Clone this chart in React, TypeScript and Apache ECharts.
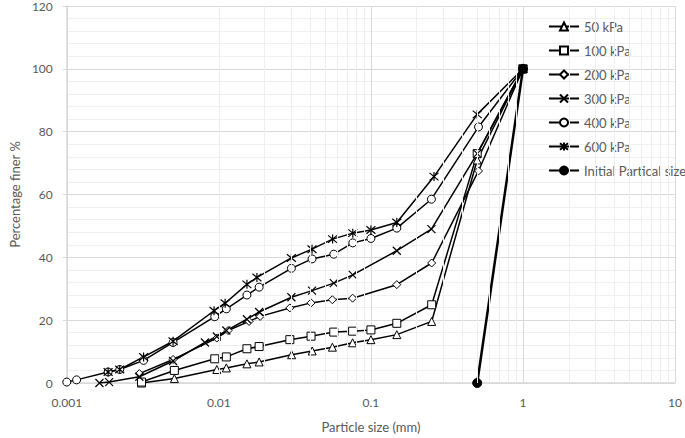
import React, { useEffect, useRef } from "react";
import * as echarts from "echarts";

const seriesNames = ["50 kPa", "100 kPa", "200 kPa", "300 kPa", "400 kPa", "600 kPa", "Initial Partical size"];

const x50 = [0.0031, 0.0051, 0.0097, 0.0112, 0.0153, 0.0184, 0.0301, 0.0411, 0.0558, 0.0758, 0.1, 0.148, 0.251, 0.5, 1];
const y50 = [0, 1.4, 4.3, 4.8, 6.1, 6.7, 9, 10.2, 11.4, 12.8, 13.8, 15.4, 19.6, 71, 100];

const x100 = [0.0031, 0.0051, 0.0094, 0.0112, 0.0153, 0.0184, 0.0293, 0.0404, 0.057, 0.0758, 0.1, 0.148, 0.251, 0.5, 1];
const y100 = [0.3, 4, 7.7, 8.3, 10.9, 11.6, 13.8, 14.9, 16.2, 16.5, 16.9, 19, 24.9, 73, 100];

const x200 = [0.003, 0.005, 0.0097, 0.0115, 0.0158, 0.0187, 0.0293, 0.0404, 0.0558, 0.0758, 0.148, 0.251, 0.51, 1];
const y200 = [3, 7.5, 14.3, 16.7, 19.6, 21.2, 23.9, 25.5, 26.5, 27, 31.3, 38.2, 67.5, 100];

const x300 = [0.00164, 0.0019, 0.003, 0.005, 0.0081, 0.0097, 0.0112, 0.0153, 0.0184, 0.03, 0.041, 0.057, 0.076, 0.148, 0.25, 0.5, 1];
const y300 = [0, 0.3, 2, 7, 12.9, 14.8, 16.7, 20.3, 22.6, 27.3, 29.4, 31.8, 34.4, 42.1, 49, 73, 100];

const x400 = [0.001, 0.00116, 0.00187, 0.00223, 0.0032, 0.005, 0.0094, 0.0112, 0.0153, 0.0184, 0.03, 0.041, 0.057, 0.076, 0.1, 0.148, 0.25, 0.51, 1];
const y400 = [0.3, 1, 3.5, 4.3, 7.2, 12.9, 21.1, 23.6, 28, 30.5, 36.5, 39.5, 41, 44.6, 46, 49.3, 58.5, 81.5, 100];

const x600 = [0.00187, 0.00223, 0.0032, 0.005, 0.0093, 0.011, 0.0153, 0.0178, 0.03, 0.041, 0.056, 0.076, 0.1, 0.148, 0.26, 0.5, 1];
const y600 = [3.5, 4.3, 8.3, 13.3, 23, 25.4, 31.4, 33.6, 39.8, 42.6, 45.8, 47.7, 48.7, 51.1, 65.7, 85.5, 100];

const xInit = [0.5, 1];
const yInit = [0, 100];

const xTicks = [0.001, 0.01, 0.1, 1, 10];

const FONT = "Lato, 'Open Sans', sans-serif";
const GREY = "#595959";

const XPATH = "path://M0,0L10,10M10,0L0,10";
const STARPATH = "path://M0,0L10,10M10,0L0,10M5,-1L5,11";

function pairs(xs: number[], ys: number[]) {
  return xs.map((x, i) => [x, ys[i]]);
}

export default function App() {
  const ref = useRef<HTMLDivElement>(null);
  useEffect(() => {
    if (!ref.current) return;
    const chart = echarts.init(ref.current, undefined, { renderer: "svg" });

    const minorX: any[] = [];
    for (let d = -3; d <= 0; d++) {
      for (let k = 2; k <= 9; k++) {
        minorX.push({ xAxis: k * Math.pow(10, d) });
      }
    }

    const hollow = (name: string, xs: number[], ys: number[], symbol: string, size: number) => ({
      name,
      type: "line",
      data: pairs(xs, ys),
      symbol,
      symbolSize: size,
      z: 3,
      lineStyle: { color: "#000", width: 1.5 },
      itemStyle: { color: "#fff", borderColor: "#000", borderWidth: 1 },
    });
    const cross = (name: string, xs: number[], ys: number[], symbol: string, size: number) => ({
      name,
      type: "line",
      data: pairs(xs, ys),
      symbol,
      symbolSize: size,
      z: 3,
      lineStyle: { color: "#000", width: 1.5 },
      itemStyle: { color: "none", borderColor: "#000", borderWidth: 1.2 },
    });

    chart.setOption({
      animation: false,
      backgroundColor: "#fff",
      grid: { left: 55, right: 8, top: 6, bottom: 54 },
      legend: {
        orient: "vertical",
        left: 543,
        top: 15,
        itemWidth: 30,
        itemHeight: 10,
        itemGap: 11,
        data: seriesNames,
        textStyle: { color: GREY, fontSize: 13, fontFamily: FONT },
      },
      xAxis: {
        type: "log",
        logBase: 10,
        min: 0.001,
        max: 10,
        name: "Particle size (mm)",
        nameLocation: "middle",
        nameGap: 37,
        nameTextStyle: { color: GREY, fontSize: 13, fontFamily: FONT },
        axisLine: { show: true, lineStyle: { color: "#d9d9d9", width: 1.5 } },
        axisTick: { show: false },
        axisLabel: {
          color: GREY,
          fontSize: 12,
          fontFamily: FONT,
          margin: 13,
          formatter: (v: number) => {
            const m = xTicks.find((t) => Math.abs(t - v) / t < 1e-6);
            return m !== undefined ? String(m) : "";
          },
        },
        splitLine: { show: true, lineStyle: { color: "#d9d9d9", width: 1 } },
      },
      yAxis: {
        type: "value",
        min: 0,
        max: 120,
        interval: 20,
        name: "Percentage finer %",
        nameLocation: "middle",
        nameGap: 44,
        nameTextStyle: { color: GREY, fontSize: 13, fontFamily: FONT },
        axisLine: { show: true, lineStyle: { color: "#d9d9d9", width: 1.5 } },
        axisTick: { show: true, length: 4, lineStyle: { color: "#d9d9d9" } },
        axisLabel: { color: GREY, fontSize: 12, fontFamily: FONT, margin: 14 },
        splitLine: { show: true, lineStyle: { color: "#d9d9d9", width: 1 } },
        minorTick: { show: false, splitNumber: 5 },
        minorSplitLine: { show: true, lineStyle: { color: "#f0f0f0", width: 1 } },
      },
      series: [
        {
          name: "minor-grid",
          type: "line",
          data: [],
          z: 1,
          silent: true,
          markLine: {
            silent: true,
            symbol: "none",
            label: { show: false },
            lineStyle: { color: "#eeeeee", type: "solid", width: 1 },
            data: minorX,
          },
        },
        hollow(seriesNames[0], x50, y50, "triangle", 8),
        hollow(seriesNames[1], x100, y100, "rect", 8),
        hollow(seriesNames[2], x200, y200, "diamond", 8),
        cross(seriesNames[3], x300, y300, XPATH, 8),
        hollow(seriesNames[4], x400, y400, "circle", 8),
        cross(seriesNames[5], x600, y600, STARPATH, 9),
        {
          name: seriesNames[6],
          type: "line",
          data: pairs(xInit, yInit),
          symbol: "circle",
          symbolSize: 9,
          z: 4,
          lineStyle: { color: "#000", width: 2.5 },
          itemStyle: { color: "#000", borderColor: "#000", borderWidth: 1 },
        },
      ],
    });
    return () => chart.dispose();
  }, []);
  return (
    <div
      ref={ref}
      style={{ position: "fixed", left: 0, top: 0, width: 685, height: 438 }}
    />
  );
}
